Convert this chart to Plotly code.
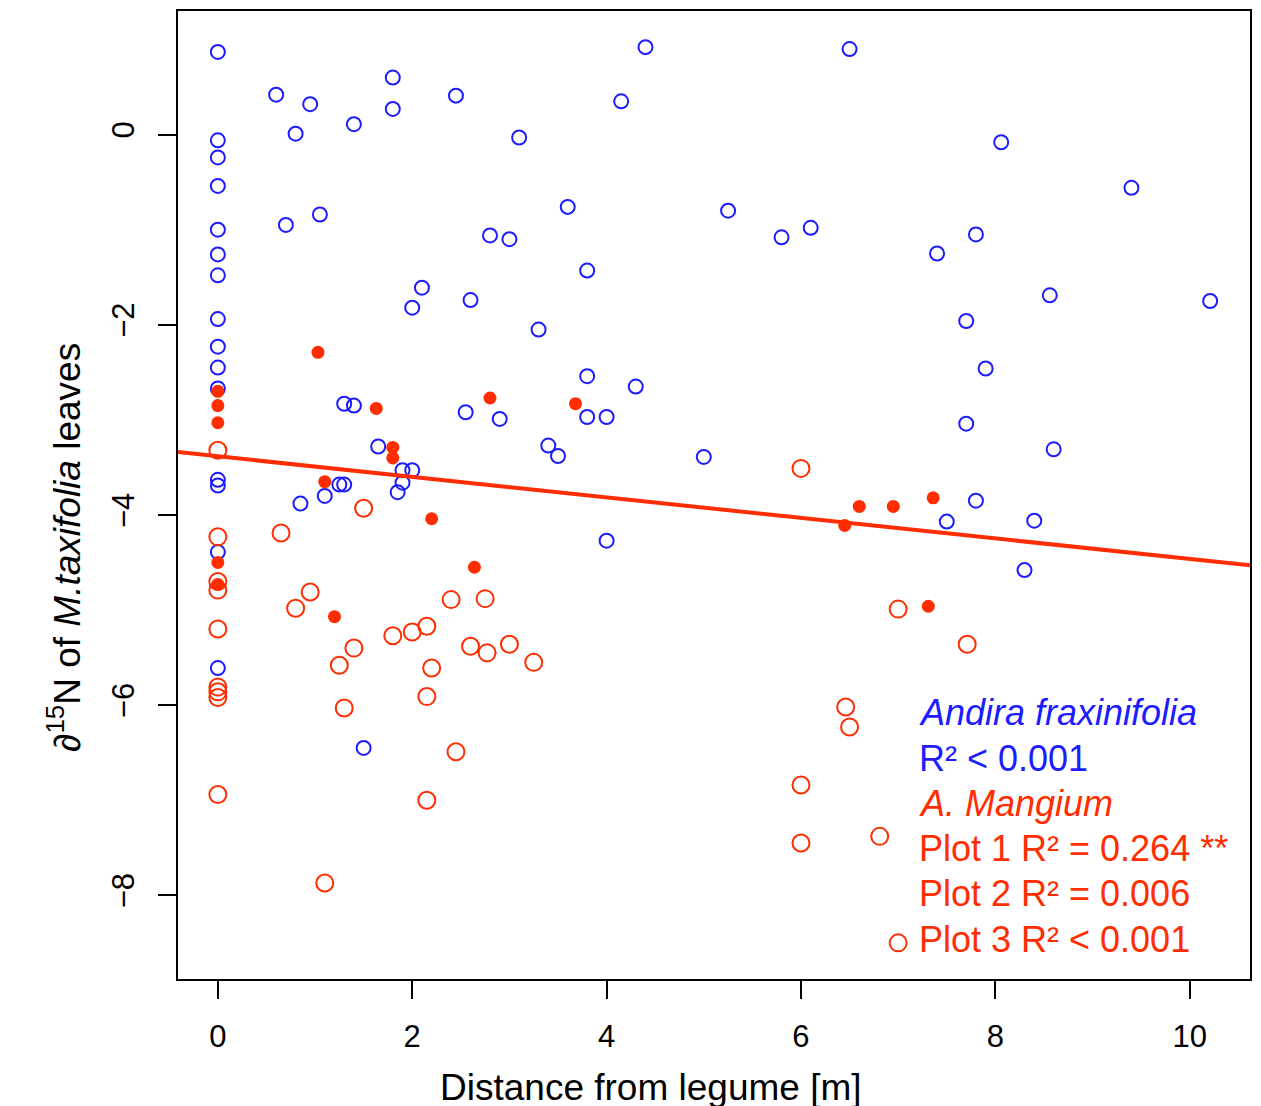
import plotly.graph_objects as go

# ---------------- data ----------------
# Andira fraxinifolia (blue open circles)
andira_x = [0, 0, 0, 0, 0, 0, 0, 0, 0, 0, 0, 0, 0, 0, 0,
            0.60, 0.95, 0.80, 1.40, 1.80, 1.80, 2.45, 3.10, 3.60, 0.70, 1.05, 2.80, 3.00,
            2.10, 2.60, 2.00, 3.30, 1.30, 1.40, 2.55, 2.90, 3.40, 3.50, 1.65, 1.90, 2.00,
            1.90, 1.85, 1.25, 1.30, 1.10, 0.85, 1.50,
            4.40, 6.50, 4.15, 8.06, 9.40, 5.25, 5.80, 6.10, 7.40, 7.80, 3.80, 8.56, 10.21,
            7.70, 7.90, 3.80, 4.30, 3.80, 4.00, 7.70, 8.60, 5.00, 7.80, 7.50, 8.40, 4.00, 8.30]
andira_y = [0.87, -0.06, -0.24, -0.54, -1.00, -1.26, -1.48, -1.94, -2.23, -2.45, -2.67, -3.63, -3.69, -4.39, -5.61,
            0.42, 0.32, 0.01, 0.11, 0.60, 0.27, 0.41, -0.03, -0.76, -0.95, -0.84, -1.06, -1.10,
            -1.61, -1.74, -1.82, -2.05, -2.83, -2.85, -2.92, -2.99, -3.27, -3.38, -3.28, -3.53, -3.53,
            -3.66, -3.76, -3.68, -3.68, -3.80, -3.88, -6.45,
            0.92, 0.90, 0.35, -0.08, -0.56, -0.80, -1.08, -0.98, -1.25, -1.05, -1.43, -1.69, -1.75,
            -1.96, -2.46, -2.54, -2.65, -2.97, -2.97, -3.04, -3.31, -3.39, -3.85, -4.07, -4.06, -4.27, -4.58]

# A. mangium, open red circles
mangium_open_x = [0, 0, 0, 0, 0, 0, 0, 0, 0,
                  1.50, 0.65, 0.95, 0.80, 2.40, 2.75, 2.15, 2.00, 1.80, 2.60, 2.77, 3.00, 3.25,
                  1.40, 1.25, 2.20, 2.15, 1.30, 2.45, 2.15, 1.10,
                  6.00, 7.00, 7.71, 6.46, 6.50, 6.00, 6.00, 6.81, 7.00]
mangium_open_y = [-3.32, -4.23, -4.70, -4.79, -5.20, -5.81, -5.86, -5.92, -6.94,
                  -3.93, -4.19, -4.81, -4.98, -4.89, -4.88, -5.17, -5.23, -5.27, -5.38, -5.45, -5.36, -5.55,
                  -5.40, -5.58, -5.61, -5.91, -6.03, -6.49, -7.00, -7.87,
                  -3.51, -4.99, -5.36, -6.02, -6.23, -6.84, -7.45, -7.38, -8.50]

# A. mangium, plot 1 (filled red dots)
mangium_fill_x = [1.03, 0, 0, 0, 1.63, 2.80, 3.68, 1.80, 1.80, 1.10, 2.20, 0, 0, 2.64, 1.20,
                  6.60, 6.95, 7.36, 6.45, 7.31]
mangium_fill_y = [-2.29, -2.70, -2.85, -3.03, -2.88, -2.77, -2.83, -3.29, -3.40, -3.65, -4.04, -4.50, -4.73, -4.55, -5.07,
                  -3.91, -3.91, -3.82, -4.11, -4.96]

# regression line (Plot 1)
fit_intercept = -3.383
fit_slope = -0.108

x_ticks = [0, 2, 4, 6, 8, 10]
y_ticks = [-8, -6, -4, -2, 0]
x_range = [-0.41, 10.62]
y_range = [-8.88, 1.30]

legend_lines = [
    ("<i>Andira fraxinifolia</i>", "blue"),
    ("R² < 0.001", "blue"),
    ("<i>A. Mangium</i>", "red"),
    ("Plot 1 R² = 0.264 **", "red"),
    ("Plot 2 R² = 0.006", "red"),
    ("Plot 3 R² < 0.001", "red"),
]

BLUE = "#1c1cff"
RED = "#ff2d00"
FONT = "Liberation Sans, Arial, Helvetica, sans-serif"

# page body has an 8px margin -> compensate so the frame sits at (178, 9)-(1250, 979)
OFF = 8
PL, PT, PR, PB = 178, 9, 1250, 979
W, H = 1261, 1106
PW, PH = PR - PL, PB - PT

fig = go.Figure()

fig.add_trace(go.Scatter(
    x=andira_x, y=andira_y, mode="markers",
    marker=dict(symbol="circle-open", size=14, color=BLUE, line=dict(width=2, color=BLUE)),
    showlegend=False, hoverinfo="skip"))

fig.add_trace(go.Scatter(
    x=mangium_open_x, y=mangium_open_y, mode="markers",
    marker=dict(symbol="circle-open", size=17, color=RED, line=dict(width=2, color=RED)),
    showlegend=False, hoverinfo="skip"))

fig.add_trace(go.Scatter(
    x=mangium_fill_x, y=mangium_fill_y, mode="markers",
    marker=dict(symbol="circle", size=13, color=RED, line=dict(width=0)),
    showlegend=False, hoverinfo="skip"))

line_x = [x_range[0], x_range[1]]
line_y = [fit_intercept + fit_slope * v for v in line_x]
fig.add_trace(go.Scatter(
    x=line_x, y=line_y, mode="lines",
    line=dict(color=RED, width=4), showlegend=False, hoverinfo="skip"))

# legend text
y0 = -6.08
dy = 0.476
for i, (txt, col) in enumerate(legend_lines):
    fig.add_annotation(
        x=7.19, y=y0 - i * dy, xref="x", yref="y", text=txt, showarrow=False,
        xanchor="left", yanchor="middle",
        font=dict(family=FONT, size=36, color=BLUE if col == "blue" else RED))

# axis titles
fig.add_annotation(
    x=0, y=(PB - 547) / PH, xref="paper", yref="paper", xshift=-(PL - 65),
    text="∂<sup>15</sup>N of <i>M.taxifolia</i> leaves", textangle=-90,
    showarrow=False, xanchor="center", yanchor="middle",
    font=dict(family=FONT, size=37, color="black"))
fig.add_annotation(
    x=(651 - PL) / PW, y=0, xref="paper", yref="paper", yshift=-(1087 - PB),
    text="Distance from legume [m]", showarrow=False,
    xanchor="center", yanchor="middle",
    font=dict(family=FONT, size=37, color="black"))

def px_x(v):
    return (v - PL) / PW

def px_y(v):
    return (PB - v) / PH

# fragments of neighbouring panel at the left edge
shapes = [
    dict(type="line", xref="paper", yref="paper", x0=px_x(0), x1=px_x(5),
         y0=px_y(703), y1=px_y(703), line=dict(color="#555555", width=1)),
    dict(type="line", xref="paper", yref="paper", x0=px_x(5), x1=px_x(5),
         y0=px_y(703), y1=px_y(1106), line=dict(color="#555555", width=1)),
    dict(type="line", xref="paper", yref="paper", x0=px_x(2), x1=px_x(5),
         y0=px_y(938), y1=px_y(938), line=dict(color="#555555", width=1)),
    dict(type="line", xref="paper", yref="paper", x0=px_x(0), x1=px_x(5),
         y0=px_y(823), y1=px_y(818), line=dict(color=RED, width=2)),
    dict(type="rect", xref="paper", yref="paper", x0=px_x(0), x1=px_x(4),
         y0=px_y(308), y1=px_y(343), fillcolor="black", line=dict(width=0)),
    dict(type="rect", xref="paper", yref="paper", x0=px_x(0), x1=px_x(4),
         y0=px_y(357), y1=px_y(408), fillcolor="black", line=dict(width=0)),
]

fig.update_layout(
    width=W, height=H,
    margin=dict(l=PL - OFF, r=W - (PR - OFF), t=PT - OFF, b=H - (PB - OFF)),
    paper_bgcolor="white", plot_bgcolor="white",
    font=dict(family=FONT, color="black"),
    shapes=shapes,
)
fig.update_xaxes(
    range=x_range, tickvals=x_ticks, ticktext=[str(v) for v in x_ticks],
    showgrid=False, zeroline=False,
    showline=True, mirror=True, linecolor="black", linewidth=2,
    ticks="outside", ticklen=18, tickwidth=2, tickcolor="black",
    tickfont=dict(family=FONT, size=31, color="black"),
    ticklabelstandoff=11)
fig.update_yaxes(
    range=y_range, tickvals=y_ticks, ticktext=["\u2212" + str(-v) if v < 0 else str(v) for v in y_ticks],
    showgrid=False, zeroline=False,
    showline=True, mirror=True, linecolor="black", linewidth=2,
    ticks="outside", ticklen=18, tickwidth=2, tickcolor="black",
    tickangle=-90,
    tickfont=dict(family=FONT, size=31, color="black"),
    ticklabelstandoff=12)

fig.write_html("out.html")
